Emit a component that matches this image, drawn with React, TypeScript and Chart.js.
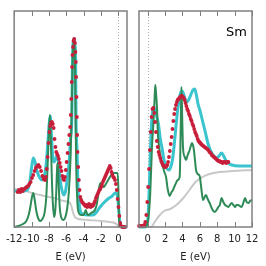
import React, { useEffect, useRef } from "react";
import { Chart, registerables } from "chart.js";

Chart.register(...registerables);

// ---- Data: [energy (eV), DOS (arb. units)] ----
const leftTicks = [-12, -10, -8, -6, -4, -2, 0];
const rightTicks = [0, 2, 4, 6, 8, 10, 12];
const elementLabel = "Sm";
const axisTitle = "E (eV)";

const leftCyan: [number, number][] = [
  [-12, 36], [-11, 36], [-10.5, 37], [-10.2, 45], [-10.0, 59], [-9.8, 69], [-9.6, 65], [-9.4, 57],
  [-9.1, 50], [-8.8, 47], [-8.5, 52], [-8.3, 64], [-8.1, 87], [-7.95, 105], [-7.85, 111], [-7.75, 99],
  [-7.6, 75], [-7.45, 65], [-7.3, 66], [-7.1, 71], [-7.0, 72], [-6.85, 62], [-6.7, 47], [-6.5, 37],
  [-6.3, 32], [-6.1, 35], [-5.9, 47], [-5.65, 67], [-5.52, 87], [-5.35, 112], [-5.28, 167], [-5.2, 185],
  [-5.1, 188], [-5.0, 182], [-4.92, 167], [-4.88, 112], [-4.75, 75], [-4.65, 40], [-4.55, 27], [-4.4, 17],
  [-4.1, 13], [-3.5, 12], [-2.9, 12], [-2.5, 15], [-2.1, 20], [-1.7, 24], [-1.2, 28], [-0.7, 31],
  [-0.35, 34], [-0.1, 31], [0.05, 17], [0.2, 3], [0.4, 0], [1.0, 0],
];

const leftGreen: [number, number][] = [
  [-12, 0], [-11.5, 1], [-11, 3], [-10.6, 6], [-10.3, 13], [-10.1, 22], [-9.95, 30], [-9.8, 34],
  [-9.65, 28], [-9.45, 16], [-9.2, 8], [-9, 6], [-8.75, 8], [-8.5, 14], [-8.3, 30], [-8.15, 60],
  [-8, 95], [-7.88, 112], [-7.78, 90], [-7.68, 55], [-7.55, 25], [-7.4, 10], [-7.28, 15], [-7.15, 35],
  [-7.05, 60], [-6.97, 64], [-6.88, 45], [-6.75, 20], [-6.55, 9], [-6.35, 7], [-6.1, 10], [-5.9, 18],
  [-5.7, 35], [-5.5, 70], [-5.38, 110], [-5.28, 160], [-5.18, 182], [-5.1, 186], [-5.02, 178], [-4.95, 130],
  [-4.85, 60], [-4.72, 25], [-4.55, 14], [-4.3, 12], [-4, 12], [-3.75, 17], [-3.6, 13], [-3.4, 12],
  [-3.15, 14], [-2.9, 15], [-2.7, 17], [-2.5, 22], [-2.35, 30], [-2.2, 40], [-2.05, 44], [-1.9, 42],
  [-1.7, 40], [-1.5, 42], [-1.3, 45], [-1.1, 48], [-0.9, 51], [-0.7, 53], [-0.5, 54], [-0.3, 54],
  [-0.08, 54], [0, 40], [0.08, 10], [0.15, 1], [0.3, 0], [1, 0],
];

const leftGray: [number, number][] = [
  [-12, 38], [-11, 37], [-10, 34], [-9, 32], [-8, 30], [-7, 28], [-6.3, 26], [-5.7, 25],
  [-5.45, 22], [-5.2, 14], [-5, 10], [-4.6, 8], [-3.5, 7], [-2, 6], [-1, 5], [-0.4, 4],
  [-0.1, 2], [0.1, 0], [1, 0],
];

const leftRed: [number, number][] = [
  [-11.6, 35], [-11.45, 37], [-11.3, 35], [-11.15, 38], [-11.0, 36], [-10.85, 38], [-10.7, 39], [-10.55, 40],
  [-10.4, 41], [-10.25, 43], [-10.1, 45], [-9.95, 49], [-9.8, 52], [-9.65, 56], [-9.5, 59], [-9.35, 61],
  [-9.2, 62], [-9.05, 60], [-8.9, 56], [-8.75, 51], [-8.6, 48], [-8.45, 47], [-8.35, 50], [-8.25, 58],
  [-8.15, 70], [-8.05, 84], [-7.95, 95], [-7.85, 101], [-7.75, 104], [-7.65, 105], [-7.55, 103], [-7.45, 99],
  [-7.35, 88], [-7.25, 80], [-7.15, 75], [-7.05, 73], [-6.95, 71], [-6.85, 68], [-6.75, 64], [-6.65, 60],
  [-6.55, 56], [-6.45, 51], [-6.35, 48], [-6.25, 47], [-6.15, 50], [-6.05, 57], [-5.95, 65], [-5.85, 74],
  [-5.75, 83], [-5.65, 92], [-5.55, 100], [-5.48, 112], [-5.42, 128], [-5.37, 145], [-5.33, 160], [-5.28, 172],
  [-5.22, 180], [-5.15, 186], [-5.08, 188], [-5.0, 184], [-4.94, 175], [-4.9, 165], [-4.86, 150], [-4.82, 130],
  [-4.78, 110], [-4.74, 92], [-4.7, 75], [-4.62, 60], [-4.55, 47], [-4.47, 37], [-4.38, 30], [-4.28, 27],
  [-4.18, 25], [-4.08, 24], [-3.98, 23], [-3.88, 22], [-3.78, 21], [-3.68, 22], [-3.58, 20], [-3.48, 21],
  [-3.38, 23], [-3.28, 21], [-3.18, 20], [-3.08, 22], [-2.98, 21], [-2.88, 22], [-2.78, 24], [-2.68, 26],
  [-2.58, 29], [-2.48, 31], [-2.38, 33], [-2.28, 35], [-2.18, 37], [-2.08, 38], [-1.98, 40], [-1.88, 42],
  [-1.78, 45], [-1.68, 47], [-1.58, 49], [-1.48, 51], [-1.38, 53], [-1.28, 55], [-1.18, 57], [-1.08, 59],
  [-0.98, 61], [-0.88, 59], [-0.78, 55], [-0.68, 52], [-0.58, 50], [-0.48, 49], [-0.38, 47], [-0.28, 43],
  [-0.18, 37], [-0.08, 28], [0.02, 20], [0.12, 11], [0.22, 4], [0.32, 1], [0.45, 0], [0.6, 0], [0.75, 0],
];

const rightCyan: [number, number][] = [
  [-1, 0], [-0.3, 0], [-0.1, 1], [0.05, 12], [0.2, 45], [0.35, 85], [0.5, 110], [0.68, 120],
  [0.85, 117], [1.05, 110], [1.25, 102], [1.45, 88], [1.65, 79], [1.85, 68], [2.05, 62], [2.25, 58],
  [2.45, 57], [2.65, 60], [2.85, 67], [3.05, 82], [3.3, 105], [3.55, 124], [3.75, 133], [3.92, 136],
  [4.1, 134], [4.3, 128], [4.5, 125], [4.7, 127], [4.95, 132], [5.2, 137], [5.4, 138], [5.6, 132],
  [5.82, 122], [6.0, 117], [6.2, 110], [6.4, 103], [6.6, 96], [6.95, 83], [7.2, 77], [7.5, 72],
  [7.95, 69], [8.2, 71], [8.5, 74], [8.8, 70], [9.1, 65], [9.7, 62], [10.5, 61], [12, 61],
];

const rightGreen: [number, number][] = [
  [-1, 0], [-0.2, 0], [-0.05, 3], [0.1, 10], [0.3, 35], [0.49, 79], [0.69, 109], [0.8, 130],
  [0.87, 142], [0.95, 135], [1.07, 119], [1.19, 90], [1.27, 83], [1.53, 67], [1.75, 60], [1.96, 54],
  [2.11, 50], [2.3, 38], [2.53, 31], [2.75, 35], [2.91, 37], [3.1, 41], [3.26, 44], [3.45, 47],
  [3.68, 50], [3.8, 100], [3.88, 140], [3.97, 110], [4.06, 80], [4.26, 70], [4.41, 67], [4.6, 72],
  [4.83, 77], [5.0, 82], [5.1, 84], [5.3, 78], [5.45, 66], [5.56, 57], [5.75, 53], [5.98, 51],
  [6.15, 40], [6.36, 27], [6.55, 30], [6.71, 32], [6.9, 28], [7.13, 24], [7.36, 19], [7.72, 15],
  [8.0, 18], [8.12, 20], [8.3, 22], [8.5, 29], [8.7, 25], [8.9, 22], [9.1, 21], [9.28, 20],
  [9.45, 22], [9.67, 24], [9.85, 22], [10.05, 20], [10.2, 22], [10.4, 22], [10.6, 21], [10.8, 20],
  [11.0, 24], [11.2, 29], [11.38, 25], [11.58, 24], [11.78, 26], [12, 27],
];

const rightGray: [number, number][] = [
  [-1, 0], [0.4, 0], [0.8, 5], [1.3, 11], [1.9, 16], [2.6, 18], [3.3, 22], [4.1, 29],
  [4.8, 37], [5.5, 45], [6.3, 50], [7.1, 53], [8.3, 55], [9.8, 56], [12, 57],
];

const rightRed: [number, number][] = [
  [-1.0, 1], [-0.85, 1], [-0.7, 1], [-0.55, 1], [-0.4, 2], [-0.28, 5], [-0.16, 12], [-0.05, 25],
  [0.05, 40], [0.15, 58], [0.25, 77], [0.35, 95], [0.45, 110], [0.55, 118], [0.65, 119], [0.75, 114],
  [0.85, 105], [0.95, 95], [1.05, 86], [1.15, 80], [1.25, 75], [1.35, 72], [1.45, 69], [1.55, 66],
  [1.65, 64], [1.75, 62], [1.85, 61], [1.95, 60], [2.05, 60], [2.15, 61], [2.25, 62], [2.35, 65],
  [2.45, 70], [2.55, 76], [2.65, 83], [2.75, 90], [2.85, 98], [2.95, 106], [3.05, 113], [3.15, 118],
  [3.25, 122], [3.35, 125], [3.45, 127], [3.55, 128], [3.65, 129], [3.75, 130], [3.85, 131], [3.95, 131],
  [4.05, 130], [4.15, 129], [4.25, 127], [4.35, 124], [4.45, 121], [4.55, 118], [4.65, 116], [4.75, 113],
  [4.85, 111], [4.95, 108], [5.05, 106], [5.15, 103], [5.25, 101], [5.35, 98], [5.45, 95], [5.55, 93],
  [5.65, 91], [5.75, 88], [5.85, 86], [5.95, 85], [6.05, 84], [6.15, 83], [6.25, 82], [6.4, 81],
  [6.55, 80], [6.7, 79], [6.85, 78], [6.97, 77], [7.1, 75], [7.25, 74], [7.37, 72], [7.5, 71],
  [7.62, 70], [7.75, 69], [7.88, 68], [8.0, 67], [8.13, 66], [8.25, 66], [8.38, 65], [8.5, 65],
  [8.62, 64], [8.75, 65], [8.9, 65], [9.02, 64], [9.15, 65], [9.28, 65],
];

const CYAN = "rgb(58,196,206)";
const GREEN = "rgb(46,139,87)";
const RED = "rgb(200,30,58)";
const GRAY = "rgb(200,200,200)";
const FRAME = "#808080";
const FONT = "'DejaVu Sans', sans-serif";

const toXY = (arr: [number, number][]) => arr.map(([x, y]) => ({ x, y }));

const panelPlugin = {
  id: "panelDeco",
  beforeDatasetsDraw(chart: any) {
    const { ctx, chartArea: a, scales } = chart;
    const px = Math.round(scales.x.getPixelForValue(0)) + 0.5;
    ctx.save();
    ctx.strokeStyle = "#b4b4b4";
    ctx.lineWidth = 1;
    ctx.setLineDash([1, 2]);
    ctx.beginPath();
    ctx.moveTo(px, a.top);
    ctx.lineTo(px, a.bottom);
    ctx.stroke();
    ctx.restore();
  },
  afterDraw(chart: any, _args: any, opts: any) {
    const { ctx, chartArea: a, scales } = chart;
    ctx.save();
    ctx.strokeStyle = FRAME;
    ctx.lineWidth = 1.5;
    ctx.strokeRect(a.left, a.top, a.right - a.left, a.bottom - a.top);
    ctx.lineWidth = 1;
    ctx.beginPath();
    for (const t of scales.x.ticks) {
      const px = Math.round(scales.x.getPixelForValue(t.value)) + 0.5;
      ctx.moveTo(px, a.top);
      ctx.lineTo(px, a.top + 5);
      ctx.moveTo(px, a.bottom);
      ctx.lineTo(px, a.bottom - 5);
    }
    ctx.stroke();
    if (opts && opts.label) {
      ctx.fillStyle = "#000";
      ctx.font = `13px ${FONT}`;
      ctx.textAlign = "right";
      ctx.textBaseline = "alphabetic";
      ctx.fillText(opts.label, a.right - 5, a.top + 25);
    }
    ctx.restore();
  },
};

function makeConfig(side: "left" | "right"): any {
  const isLeft = side === "left";
  const cyan = isLeft ? leftCyan : rightCyan;
  const green = isLeft ? leftGreen : rightGreen;
  const gray = isLeft ? leftGray : rightGray;
  const red = isLeft ? leftRed : rightRed;
  const ticks = isLeft ? leftTicks : rightTicks;
  return {
    type: "line",
    data: {
      datasets: [
        {
          data: toXY(red),
          showLine: false,
          pointRadius: 1.9,
          pointBackgroundColor: RED,
          pointBorderWidth: 0,
          borderColor: RED,
          order: 0,
        },
        {
          data: toXY(green),
          borderColor: GREEN,
          borderWidth: 2,
          pointRadius: 0,
          cubicInterpolationMode: "monotone",
          order: 1,
        },
        {
          data: toXY(cyan),
          borderColor: CYAN,
          borderWidth: 3,
          pointRadius: 0,
          cubicInterpolationMode: "monotone",
          order: 2,
        },
        {
          data: toXY(gray),
          borderColor: GRAY,
          borderWidth: 2,
          pointRadius: 0,
          cubicInterpolationMode: "monotone",
          order: 3,
        },
      ],
    },
    options: {
      animation: false,
      responsive: false,
      clip: false,
      events: [],
      layout: {
        padding: isLeft
          ? { left: 14, right: 6, top: 11, bottom: 0 }
          : { left: 6, right: 14, top: 11, bottom: 0 },
      },
      plugins: {
        legend: { display: false },
        tooltip: { enabled: false },
        panelDeco: { label: isLeft ? "" : elementLabel },
      },
      scales: {
        x: {
          type: "linear",
          min: isLeft ? -12 : -1,
          max: isLeft ? 1 : 12,
          afterBuildTicks: (scale: any) => {
            scale.ticks = ticks.map((v) => ({ value: v }));
          },
          grid: { display: false, drawTicks: false },
          border: { display: false },
          ticks: {
            padding: 6,
            color: "#222",
            font: { family: FONT, size: 10 },
            maxRotation: 0,
            autoSkip: false,
          },
          title: {
            display: true,
            text: axisTitle,
            color: "#222",
            font: { family: FONT, size: 10 },
            padding: { top: 0, bottom: 3 },
          },
        },
        y: {
          display: false,
          min: 0,
          max: 216,
        },
      },
    },
    plugins: [panelPlugin],
  };
}

function Panel({ side }: { side: "left" | "right" }) {
  const ref = useRef<HTMLCanvasElement | null>(null);
  useEffect(() => {
    if (!ref.current) return;
    const chart = new Chart(ref.current, makeConfig(side));
    return () => chart.destroy();
  }, [side]);
  return (
    <canvas
      ref={ref}
      width={133}
      height={266}
      style={{ width: 133, height: 266, display: "block" }}
    />
  );
}

export default function App() {
  return (
    <div
      style={{
        position: "fixed",
        left: 0,
        top: 0,
        width: 266,
        height: 266,
        display: "flex",
        background: "#fff",
      }}
    >
      <Panel side="left" />
      <Panel side="right" />
    </div>
  );
}
